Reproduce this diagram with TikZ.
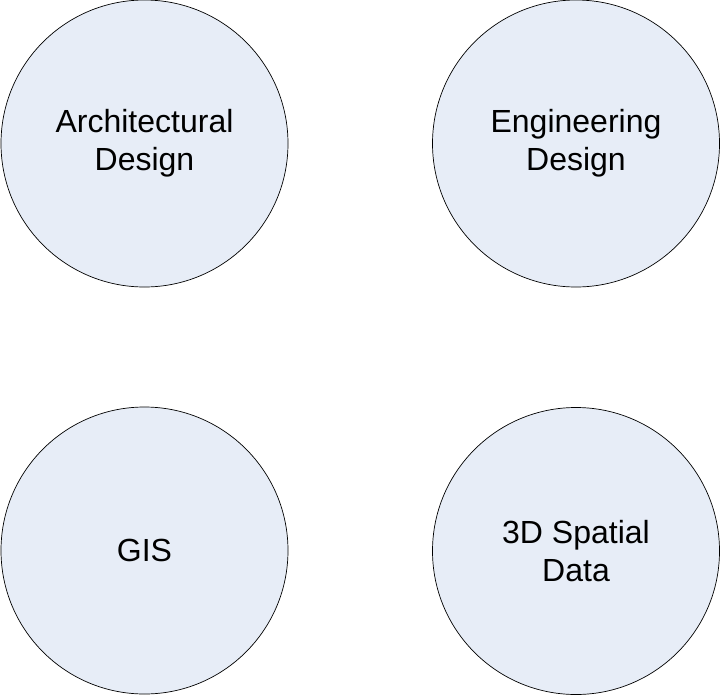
\documentclass[tikz,border=0pt]{standalone}
\usepackage{fontspec}
\setmainfont{Liberation Sans}
\usepackage{tikz}
\usetikzlibrary{positioning}
\definecolor{bubblefill}{RGB}{231,237,247}
\tikzset{bubble/.style={circle, draw=black, line width=0.7pt, fill=bubblefill, minimum size=287pt, inner sep=0pt, align=center, font=\fontsize{32}{38}\selectfont}}
\begin{document}
\begin{tikzpicture}[x=1pt,y=1pt]
\useasboundingbox (0,0) rectangle (720,-696);
% Top row
\node[bubble] (arch) at (144.5,-143.5) {Architectural\\Design};
\node[bubble] (eng) at (576,-143.5) {Engineering\\Design};
% Bottom row
\node[bubble] (gis) at (144.5,-550.5) {GIS};
\node[bubble] (spatial) at (576,-551) {3D Spatial\\Data};
\end{tikzpicture}
\end{document}
